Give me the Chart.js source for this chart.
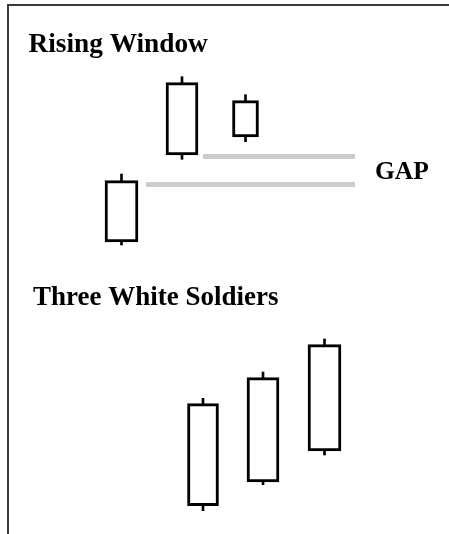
<!DOCTYPE html>
<html>
<head>
<meta charset="utf-8">
<script src="https://cdn.jsdelivr.net/npm/chart.js@4/dist/chart.umd.min.js"></script>
<style>
  body { margin: 0; background: #fff; }
  #wrap { position: relative; width: 449px; height: 534px; }
  #frame {
    position: absolute; left: 7px; top: 4px; right: 0; bottom: 0;
    border-top: 2px solid #3a3a3a; border-left: 2px solid #3a3a3a;
    pointer-events: none;
  }
  canvas { position: absolute; left: 0; top: 0; }
</style>
</head>
<body>
<div id="wrap">
  <canvas id="chart" width="449" height="534"></canvas>
  <div id="frame"></div>
</div>
<script>
// candle positions on the hidden x axis, prices on the hidden y axis
const candleX = [121.5, 182, 245.5, 203, 263, 324.5];
const candleOpen = [292, 379, 397, 28.3, 52, 83];
const candleClose = [353.3, 451.3, 433.3, 130.3, 156.3, 189.3];
const candleHigh = [360, 457.3, 439.3, 135.7, 162, 195];
const candleLow = [289, 374.7, 392.3, 23.3, 49.3, 79];

// the two gap levels of the rising window
const gapLevels = [377.5, 349.5];
const gapStart = [203, 146];
const gapEnd = [355, 355];

const labels = [
  { text: "Rising Window", x: 28.5, y: 52, size: 27.3 },
  { text: "GAP", x: 375, y: 179, size: 25.5 },
  { text: "Three White Soldiers", x: 33, y: 305, size: 27 }
];

const bodyWidths = [33, 32, 26, 31, 32, 33];

const datasets = [];

// wicks first (drawn under the bodies)
datasets.push({
  type: "bar",
  data: candleX.map((x, i) => ({ x: x, y: [candleLow[i], candleHigh[i]] })),
  backgroundColor: "#000",
  borderWidth: 0,
  barThickness: 2,
  grouped: false,
  order: 2
});

candleX.forEach((x, i) => {
  datasets.push({
    type: "bar",
    data: [{ x: x, y: [candleOpen[i], candleClose[i]] }],
    backgroundColor: "#fff",
    borderColor: "#000",
    borderWidth: 3,
    borderSkipped: false,
    barThickness: bodyWidths[i],
    grouped: false,
    order: 1
  });
});

gapLevels.forEach((level, i) => {
  datasets.push({
    type: "line",
    data: [{ x: gapStart[i], y: level }, { x: gapEnd[i], y: level }],
    borderColor: "#cccccc",
    borderWidth: 5,
    pointRadius: 0,
    order: 3
  });
});

const textPlugin = {
  id: "textLabels",
  afterDraw(chart) {
    const ctx = chart.ctx;
    ctx.save();
    ctx.fillStyle = "#000";
    ctx.textBaseline = "alphabetic";
    labels.forEach(l => {
      ctx.font = "bold " + l.size + 'px "Liberation Serif", "Times New Roman", serif';
      ctx.fillText(l.text, l.x, l.y);
    });
    ctx.restore();
  }
};

new Chart(document.getElementById("chart"), {
  type: "bar",
  data: { datasets: datasets },
  options: {
    responsive: false,
    animation: false,
    layout: { padding: 0 },
    plugins: { legend: { display: false }, tooltip: { enabled: false } },
    scales: {
      x: { type: "linear", min: 0, max: 449, offset: false, display: false },
      y: { type: "linear", min: 0, max: 534, display: false }
    }
  },
  plugins: [textPlugin]
});
</script>
</body>
</html>
